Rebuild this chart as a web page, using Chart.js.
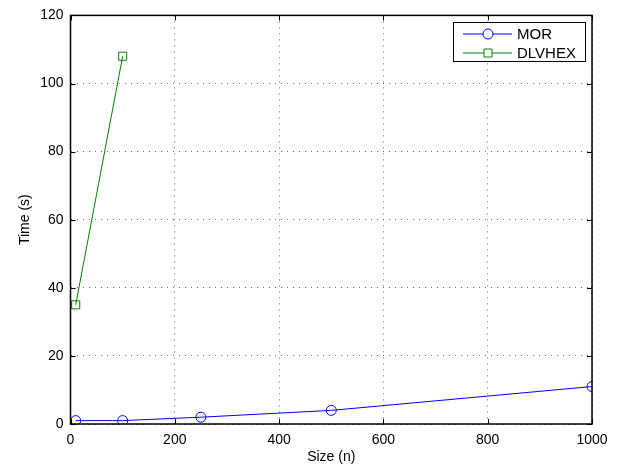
<!DOCTYPE html>
<html>
<head>
<meta charset="utf-8">
<script src="https://cdn.jsdelivr.net/npm/chart.js@4"></script>
<style>
  html, body { margin: 0; padding: 0; background: #fff; }
  canvas { display: block; }
</style>
</head>
<body>
<canvas id="chart" width="622" height="468"></canvas>
<script>
// data
const morSizes = [10, 100, 250, 500, 1000];
const morTimes = [1, 1, 2, 4, 11];
const dlvSizes = [10, 100];
const dlvTimes = [35, 108];
const xTicks = [0, 200, 400, 600, 800, 1000];
const yTicks = [0, 20, 40, 60, 80, 100, 120];

const FONT = 'Liberation Sans, Arial, Helvetica, sans-serif';

function toPoints(xs, ys) {
  return xs.map((x, i) => ({ x: x, y: ys[i] }));
}

// MATLAB-ish box, inward tick marks and legend
const framePlugin = {
  id: 'frame',
  afterDatasetsDraw(chart) {
    const { ctx, chartArea: a, scales } = chart;
    ctx.save();
    ctx.strokeStyle = '#000';
    ctx.lineWidth = 1;
    ctx.beginPath();
    xTicks.forEach(v => {
      const px = Math.round(scales.x.getPixelForValue(v)) + 0.5;
      ctx.moveTo(px, a.bottom); ctx.lineTo(px, a.bottom - 5);
      ctx.moveTo(px, a.top); ctx.lineTo(px, a.top + 5);
    });
    yTicks.forEach(v => {
      const py = Math.round(scales.y.getPixelForValue(v)) + 0.5;
      ctx.moveTo(a.left, py); ctx.lineTo(a.left + 5, py);
      ctx.moveTo(a.right, py); ctx.lineTo(a.right - 5, py);
    });
    ctx.stroke();
    ctx.lineWidth = 1.5;
    ctx.strokeRect(a.left, a.top, a.right - a.left, a.bottom - a.top);

    // legend box
    const bx = 453, by = 22, bw = 132, bh = 39;
    ctx.fillStyle = '#fff';
    ctx.fillRect(bx, by, bw, bh);
    ctx.lineWidth = 1;
    ctx.strokeRect(bx + 0.5, by + 0.5, bw, bh);
    ctx.font = '15px ' + FONT;
    ctx.textBaseline = 'middle';
    chart.data.datasets.forEach((ds, i) => {
      const y = by + 12 + i * 19;
      ctx.strokeStyle = ds.borderColor;
      ctx.lineWidth = 1;
      ctx.beginPath();
      ctx.moveTo(463, y); ctx.lineTo(512, y);
      ctx.stroke();
      ctx.beginPath();
      if (ds.pointStyle === 'circle') {
        ctx.arc(488, y, 5, 0, Math.PI * 2);
      } else {
        ctx.rect(484, y - 4, 8, 8);
      }
      ctx.fillStyle = '#fff';
      ctx.fill();
      ctx.stroke();
      ctx.fillStyle = '#000';
      ctx.fillText(ds.label, 517, y + 1);
    });
    ctx.restore();
  }
};

new Chart(document.getElementById('chart'), {
  type: 'scatter',
  data: {
    datasets: [
      {
        label: 'MOR',
        data: toPoints(morSizes, morTimes),
        showLine: true,
        borderColor: '#0000ff',
        borderWidth: 1,
        pointStyle: 'circle',
        pointRadius: 5,
        pointBorderWidth: 1,
        pointBackgroundColor: 'rgba(0,0,0,0)',
        pointBorderColor: '#0000ff'
      },
      {
        label: 'DLVHEX',
        data: toPoints(dlvSizes, dlvTimes),
        showLine: true,
        borderColor: '#008000',
        borderWidth: 1,
        pointStyle: 'rect',
        pointRadius: 5.7,
        pointBorderWidth: 1,
        pointBackgroundColor: 'rgba(0,0,0,0)',
        pointBorderColor: '#008000'
      }
    ]
  },
  options: {
    responsive: false,
    animation: false,
    layout: { padding: { left: 17, top: 14, right: 30, bottom: 0 } },
    plugins: {
      legend: { display: false },
      tooltip: { enabled: false }
    },
    scales: {
      x: {
        type: 'linear',
        min: 0,
        max: 1000,
        afterBuildTicks: s => { s.ticks = xTicks.map(v => ({ value: v })); },
        afterFit: s => { s.height = 44; },
        grid: { drawTicks: false, color: '#666', lineWidth: 1 },
        border: { display: false, dash: [1, 5] },
        ticks: {
          padding: 8,
          color: '#000',
          font: { family: FONT, size: 14 },
          callback: v => String(v)
        },
        title: {
          display: true,
          text: 'Size (n)',
          color: '#000',
          font: { family: FONT, size: 14 },
          padding: { top: 0, bottom: 2 }
        }
      },
      y: {
        type: 'linear',
        min: 0,
        max: 120,
        afterBuildTicks: s => { s.ticks = yTicks.map(v => ({ value: v })); },
        afterFit: s => { s.width = 53.5; },
        grid: { drawTicks: false, color: '#666', lineWidth: 1 },
        border: { display: false, dash: [1, 5] },
        ticks: {
          padding: 7,
          color: '#000',
          font: { family: FONT, size: 14 },
          callback: v => String(v)
        },
        title: {
          display: true,
          text: 'Time (s)',
          color: '#000',
          font: { family: FONT, size: 14 },
          padding: { top: 0, bottom: 0 }
        }
      }
    }
  },
  plugins: [framePlugin]
});
</script>
</body>
</html>
